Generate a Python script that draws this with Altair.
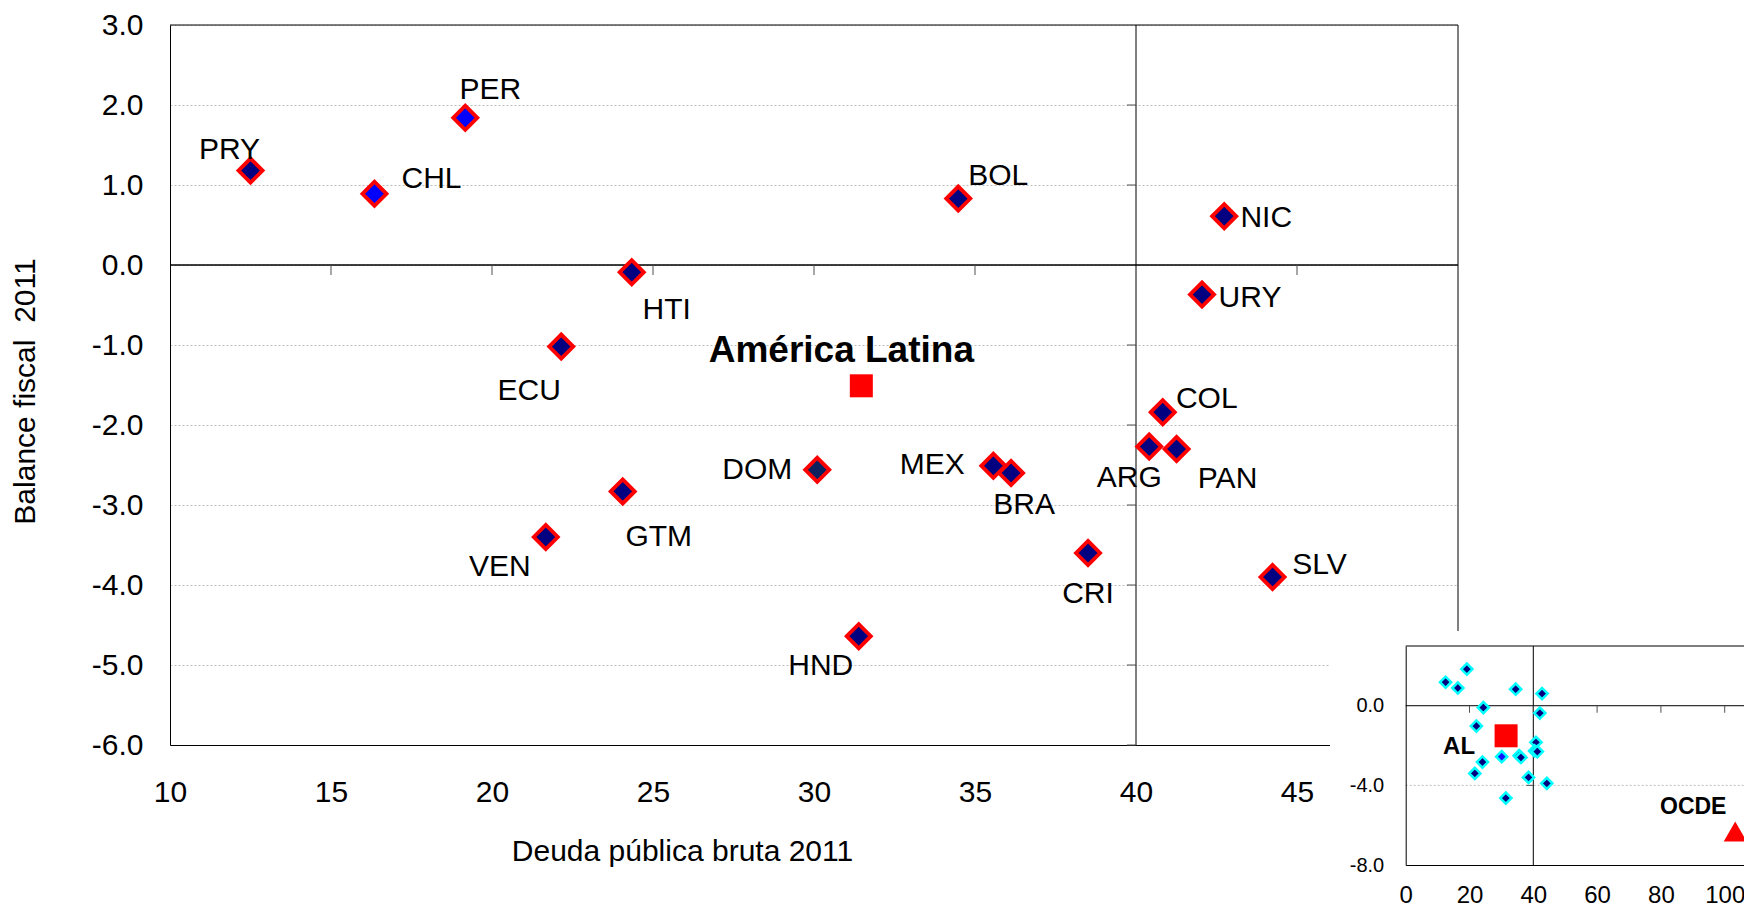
import altair as alt
import pandas as pd

# ---------------- data ----------------
paises = ["PRY", "CHL", "PER", "BOL", "NIC", "HTI", "URY", "ECU", "COL", "ARG",
          "PAN", "DOM", "MEX", "BRA", "GTM", "VEN", "CRI", "SLV", "HND"]
deuda = [12.5, 16.35, 19.17, 34.48, 42.74, 24.34, 42.05, 22.15, 40.83, 40.41,
         41.26, 30.10, 35.57, 36.12, 24.06, 21.67, 38.51, 44.24, 31.39]
balance = [1.18, 0.89, 1.84, 0.83, 0.61, -0.09, -0.37, -1.02, -1.84, -2.27,
           -2.30, -2.56, -2.51, -2.60, -2.83, -3.40, -3.60, -3.90, -4.64]

al_nombre = ["América Latina"]
al_corto = ["AL"]
al_deuda = [31.47]
al_balance = [-1.51]

ocde_nombre = ["OCDE"]
ocde_deuda = [103.3]
ocde_balance = [-6.32]

x_ticks_main = [10, 15, 20, 25, 30, 35, 40, 45]
y_ticks_main = [3, 2, 1, 0, -1, -2, -3, -4, -5, -6]
x_ticks_inset = [0, 20, 40, 60, 80, 100]
y_ticks_inset = [0, -4, -8]
cross_x_main = [15, 20, 25, 30, 35, 45]
cross_y_main = [2, 1, -1, -2, -3, -4, -5, -6]
cross_x_inset = [20, 40, 60, 80, 100]
cross_y_inset = [-4]

# ---------------- style ----------------
FONT = "Liberation Sans"
W, H = 1288, 720
PAD = {"left": 162, "top": 17, "right": 286, "bottom": 161}

LABEL_OFFSETS = {
    "PRY": (-21, -21), "CHL": (57, -15), "PER": (25, -28), "BOL": (40, -23),
    "NIC": (42, 2), "HTI": (35, 38), "URY": (48, 3), "ECU": (-32, 44),
    "COL": (44, -13), "ARG": (-20, 31), "PAN": (51, 30), "DOM": (-60, 0),
    "MEX": (-61, -1), "BRA": (13, 32), "GTM": (36, 46), "VEN": (-46, 30),
    "CRI": (0, 41), "SLV": (47, -12), "HND": (-38, 30),
}

MINUS_FMT = "(datum.value < 0 ? '-' : '') + format(abs(datum.value), '.1f')"

df = pd.DataFrame({"pais": paises, "deuda": deuda, "balance": balance})
df_al = pd.DataFrame({"nombre": al_nombre, "corto": al_corto, "deuda": al_deuda, "balance": al_balance})
df_ocde = pd.DataFrame({"nombre": ocde_nombre, "deuda": ocde_deuda, "balance": ocde_balance})
one = pd.DataFrame({"k": [0]})

# ---------------- main panel (scales share domain & range) ----------------
def xs():
    return alt.Scale(domain=[10, 50], range=[0, W], nice=False, zero=False)

def ys():
    return alt.Scale(domain=[-6, 3], range=[H, 0], nice=False, zero=False)

x_axis = alt.Axis(orient="bottom", values=x_ticks_main, title="Deuda pública bruta 2011",
                  grid=False, ticks=False, tickSize=0, labelPadding=47, labelBaseline="middle",
                  labelFont=FONT, labelFontSize=30, labelColor="black", labelFlush=False,
                  labelOverlap=False, titleFont=FONT, titleFontSize=30, titleFontWeight="normal",
                  titleColor="black", titleX=512, titleY=106, titleAlign="center",
                  titleBaseline="middle", domainColor="black", domainWidth=1)
y_axis = alt.Axis(orient="left", values=y_ticks_main, labelExpr=MINUS_FMT,
                  title="Balance fiscal\u00a0 2011", grid=True, gridColor="#bdbdbd",
                  gridDash=[2, 2], gridWidth=1, ticks=False, tickSize=0, labelPadding=27,
                  labelFont=FONT, labelFontSize=30, labelColor="black", labelFlush=False,
                  labelOverlap=False, titleFont=FONT, titleFontSize=30, titleFontWeight="normal",
                  titleColor="black", titleX=-145, titleY=366, titleAngle=270,
                  titleAlign="center", titleBaseline="middle", domainColor="black", domainWidth=1)

fill_main = {"condition": [{"test": "datum.pais == 'PER' || datum.pais == 'CHL'", "value": "#0000ff"},
                           {"test": "datum.pais == 'DOM'", "value": "#0a215e"}],
             "value": "#000080"}

def rule(x, y, sx, sy, x2=None, y2=None, **kw):
    enc = {"x": alt.XDatum(x, scale=sx, axis=None), "y": alt.YDatum(y, scale=sy, axis=None)}
    if x2 is not None:
        enc["x2"] = alt.X2Datum(x2)
    if y2 is not None:
        enc["y2"] = alt.Y2Datum(y2)
    return alt.Chart(one).mark_rule(**kw).encode(**enc)

layers = []
layers.append(alt.Chart(df).mark_point(opacity=0).encode(
    x=alt.X("deuda:Q", scale=xs(), axis=x_axis), y=alt.Y("balance:Q", scale=ys(), axis=y_axis)))
layers.append(rule(10, 3, xs(), ys(), x2=50, color="black", strokeWidth=1))
layers.append(rule(50, -6, xs(), ys(), y2=3, color="black", strokeWidth=1))
layers.append(rule(10, 0, xs(), ys(), x2=50, color="black", strokeWidth=1.4))
layers.append(rule(40, -6, xs(), ys(), y2=3, color="black", strokeWidth=1))

layers.append(alt.Chart(pd.DataFrame({"v": cross_x_main})).mark_tick(
    orient="vertical", size=10, thickness=1, yOffset=5, color="#505050", opacity=1
).encode(x=alt.X("v:Q", scale=xs(), axis=None), y=alt.YDatum(0, scale=ys(), axis=None)))
layers.append(alt.Chart(pd.DataFrame({"v": cross_y_main})).mark_tick(
    orient="horizontal", size=9, thickness=1, xOffset=-4.5, color="#505050", opacity=1
).encode(y=alt.Y("v:Q", scale=ys(), axis=None), x=alt.XDatum(40, scale=xs(), axis=None)))

layers.append(alt.Chart(df).mark_point(
    shape="diamond", filled=True, size=580, stroke="#ff0000", strokeWidth=3.8, opacity=1
).encode(x=alt.X("deuda:Q", scale=xs(), axis=None),
         y=alt.Y("balance:Q", scale=ys(), axis=None),
         fill=fill_main))

layers.append(alt.Chart(df_al).mark_square(size=529, color="#ff0000", opacity=1).encode(
    x=alt.X("deuda:Q", scale=xs(), axis=None), y=alt.Y("balance:Q", scale=ys(), axis=None)))
layers.append(alt.Chart(df_al).mark_text(
    font=FONT, fontSize=37, fontWeight="bold", color="black", dx=-20, dy=-35,
    align="center", baseline="middle"
).encode(x=alt.X("deuda:Q", scale=xs(), axis=None), y=alt.Y("balance:Q", scale=ys(), axis=None),
         text="nombre:N"))

for name, (ddx, ddy) in LABEL_OFFSETS.items():
    layers.append(
        alt.Chart(df).transform_filter(alt.datum.pais == name).mark_text(
            font=FONT, fontSize=30, color="black", dx=ddx, dy=ddy,
            align="center", baseline="middle"
        ).encode(x=alt.X("deuda:Q", scale=xs(), axis=None),
                 y=alt.Y("balance:Q", scale=ys(), axis=None),
                 text="pais:N")
    )

# ---------------- white panel under the inset ----------------
layers.append(alt.Chart(one).mark_rect(color="white", opacity=1).encode(
    x=alt.value(1160), x2=alt.value(1700), y=alt.value(606), y2=alt.value(1000)))

# ---------------- inset ----------------
def xsi():
    return alt.Scale(domain=[0, 110], range=[1235.7, 1586.6], nice=False, zero=False)

def ysi():
    return alt.Scale(domain=[-8, 3], range=[840, 621], nice=False, zero=False)

x_axis_i = alt.Axis(orient="bottom", offset=120, values=x_ticks_inset, format="d", title=None,
                    grid=False, ticks=False, tickSize=0, labelPadding=30, labelBaseline="middle",
                    labelFont=FONT, labelFontSize=24, labelColor="black", labelFlush=False,
                    labelOverlap=False, domainColor="black", domainWidth=1, zindex=1)
y_axis_i = alt.Axis(orient="left", offset=-1235.7, values=y_ticks_inset, labelExpr=MINUS_FMT,
                    title=None, grid=False, ticks=False, tickSize=0, labelPadding=22,
                    labelFont=FONT, labelFontSize=20, labelColor="black", labelFlush=False,
                    labelOverlap=False, domainColor="black", domainWidth=1, zindex=1)

layers.append(rule(0, -4, xsi(), ysi(), x2=110, color="#bdbdbd", strokeWidth=1, strokeDash=[2, 2]))
layers.append(rule(0, 3, xsi(), ysi(), x2=110, color="black", strokeWidth=1))
layers.append(rule(0, 0, xsi(), ysi(), x2=110, color="black", strokeWidth=1))
layers.append(rule(40, -8, xsi(), ysi(), y2=3, color="black", strokeWidth=1))

layers.append(alt.Chart(pd.DataFrame({"v": cross_x_inset})).mark_tick(
    orient="vertical", size=7, thickness=1, yOffset=3.5, color="#505050", opacity=1
).encode(x=alt.X("v:Q", scale=xsi(), axis=None), y=alt.YDatum(0, scale=ysi(), axis=None)))
layers.append(alt.Chart(pd.DataFrame({"v": cross_y_inset})).mark_tick(
    orient="horizontal", size=7, thickness=1, xOffset=-3.5, color="#505050", opacity=1
).encode(y=alt.Y("v:Q", scale=ysi(), axis=None), x=alt.XDatum(40, scale=xsi(), axis=None)))

fill_inset = {"condition": [{"test": "datum.pais == 'DOM'", "value": "#1414ff"}],
              "value": "#000080"}

layers.append(alt.Chart(df).mark_point(
    shape="diamond", filled=True, size=125, stroke="#00ffff", strokeWidth=2.5, opacity=1
).encode(x=alt.X("deuda:Q", scale=xsi(), axis=x_axis_i),
         y=alt.Y("balance:Q", scale=ysi(), axis=y_axis_i),
         fill=fill_inset))

layers.append(alt.Chart(df_al).mark_square(size=529, color="#ff0000", opacity=1).encode(
    x=alt.X("deuda:Q", scale=xsi(), axis=None), y=alt.Y("balance:Q", scale=ysi(), axis=None)))
layers.append(alt.Chart(df_al).mark_text(
    font=FONT, fontSize=24, fontWeight="bold", color="black", dx=-47, dy=11,
    align="center", baseline="middle"
).encode(x=alt.X("deuda:Q", scale=xsi(), axis=None), y=alt.Y("balance:Q", scale=ysi(), axis=None),
         text="corto:N"))

layers.append(alt.Chart(df_ocde).mark_point(
    shape="triangle-up", filled=True, size=530, color="#ff0000", opacity=1
).encode(x=alt.X("deuda:Q", scale=xsi(), axis=None), y=alt.Y("balance:Q", scale=ysi(), axis=None)))
layers.append(alt.Chart(df_ocde).mark_text(
    font=FONT, fontSize=23, fontWeight="bold", color="black", dx=-42, dy=-25,
    align="center", baseline="middle"
).encode(x=alt.X("deuda:Q", scale=xsi(), axis=None), y=alt.Y("balance:Q", scale=ysi(), axis=None),
         text="nombre:N"))

chart = alt.layer(*layers).resolve_scale(
    x="independent", y="independent"
).properties(
    width=W, height=H, autosize=alt.AutoSizeParams(type="none"), padding=PAD
).configure_view(strokeWidth=0)

chart.save("out.html", embed_options={"renderer": "svg", "actions": False})
